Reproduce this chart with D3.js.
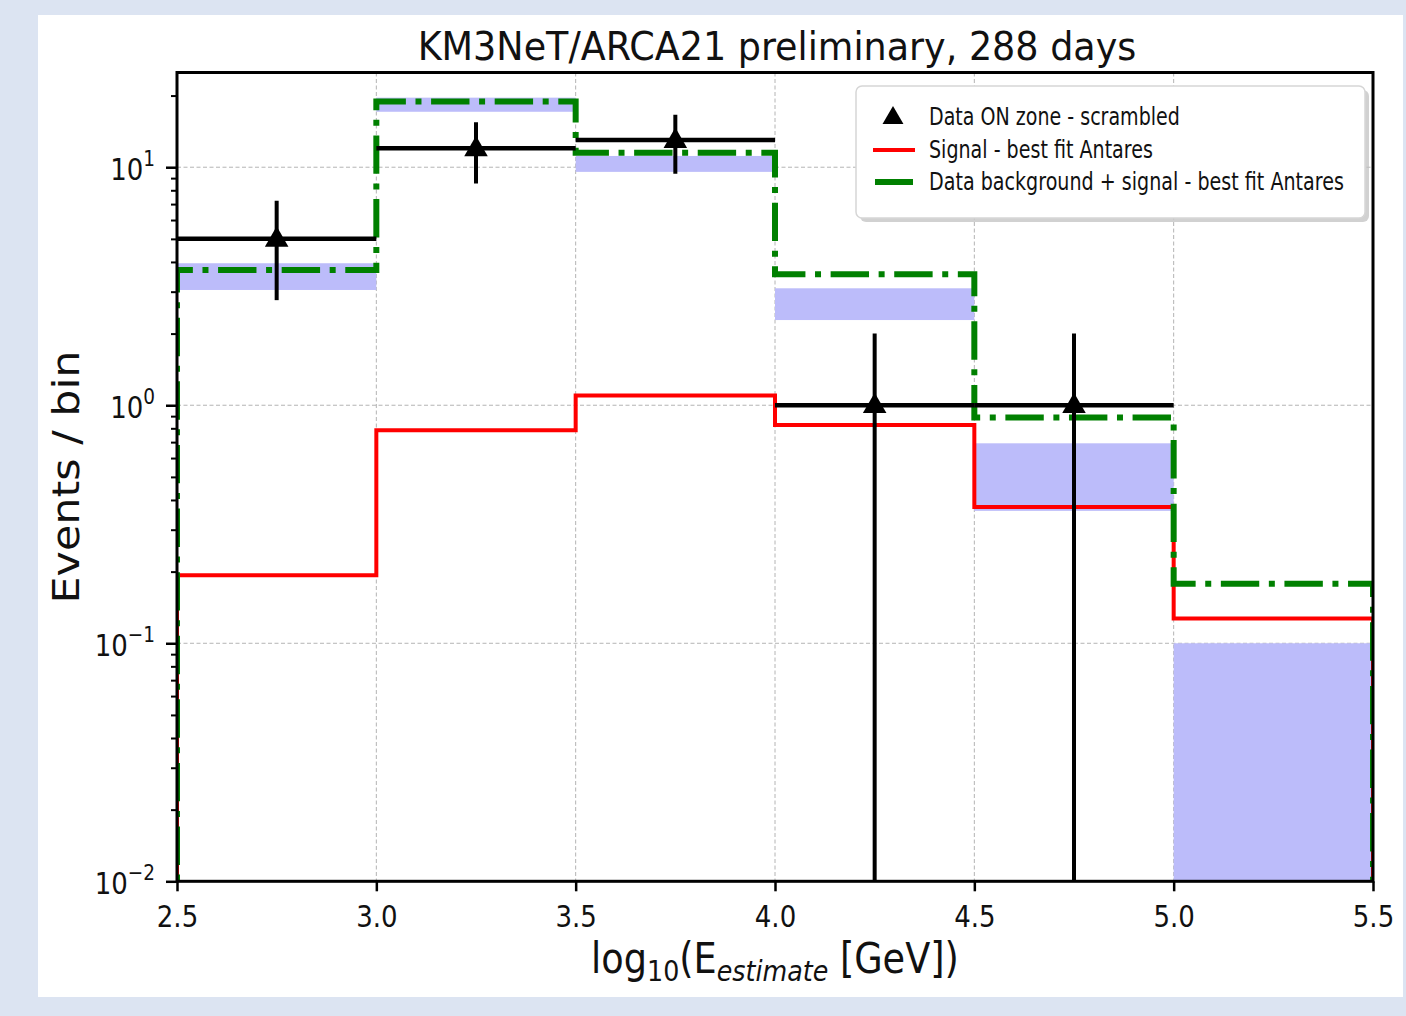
<!DOCTYPE html>
<html>
<head>
<meta charset="utf-8">
<script src="https://cdn.jsdelivr.net/npm/d3@7"></script>
<style>
  html, body { margin: 0; padding: 0; background: #dce4f2; }
  svg { display: block; }
  text { font-family: "DejaVu Sans", sans-serif; fill: #111; }
</style>
</head>
<body>
<div id="wrapper"></div>
<script>
// bin edges in log10(E / GeV)
var binEdges = [2.5, 3.0, 3.5, 4.0, 4.5, 5.0, 5.5];
// observed events, ON zone scrambled
var dataCounts = [5, 12, 13, 1, 1, 0];
// signal, best fit Antares
var signalVals = [0.193, 0.785, 1.10, 0.826, 0.374, 0.127];
// data background + signal
var bkgSignalVals = [3.70, 18.9, 11.5, 3.55, 0.888, 0.178];
// blue uncertainty band
var bandLow = [3.05, 17.1, 9.56, 2.28, 0.36, 0.001];
var bandHigh = [3.95, 19.6, 11.15, 3.10, 0.692, 0.1];

var xTicks = [2.5, 3.0, 3.5, 4.0, 4.5, 5.0, 5.5];
var yTicks = [0.01, 0.1, 1, 10];
var yTickExp = ["\u22122", "\u22121", "0", "1"];

var legendLabels = ["Data ON zone - scrambled", "Signal - best fit Antares", "Data background + signal - best fit Antares"];

var W = 1406, H = 1016;
var pL = 177, pR = 1373, pT = 72.5, pB = 881.3;
var squeeze = 0.84; // the slide's fonts look horizontally condensed

var svg = d3.select("#wrapper").append("svg")
    .attr("width", W).attr("height", H);

// white panel of the slide
svg.append("rect").attr("x", 38).attr("y", 15).attr("width", 1365).attr("height", 982).attr("fill", "white");

var x = d3.scaleLinear().domain([2.5, 5.5]).range([pL, pR]);
var y = d3.scaleLog().domain([0.01, 25]).range([pB, pT]);

svg.append("clipPath").attr("id", "plotclip")
  .append("rect").attr("x", pL).attr("y", pT).attr("width", pR - pL).attr("height", pB - pT);

// grid
var grid = svg.append("g");
grid.selectAll(".gx").data(xTicks.slice(1, -1)).enter().append("line")
    .attr("x1", d => x(d)).attr("x2", d => x(d)).attr("y1", pT).attr("y2", pB)
    .attr("stroke", "#b4b4b4").attr("stroke-width", 1).attr("stroke-dasharray", "4,2.5");
grid.selectAll(".gy").data(yTicks.slice(1)).enter().append("line")
    .attr("x1", pL).attr("x2", pR).attr("y1", d => y(d)).attr("y2", d => y(d))
    .attr("stroke", "#b4b4b4").attr("stroke-width", 1).attr("stroke-dasharray", "4,2.5");

var plot = svg.append("g").attr("clip-path", "url(#plotclip)");

// band
plot.selectAll(".band").data(bandLow).enter().append("rect")
    .attr("x", (d, i) => x(binEdges[i]))
    .attr("width", (d, i) => x(binEdges[i + 1]) - x(binEdges[i]))
    .attr("y", (d, i) => y(bandHigh[i]))
    .attr("height", (d, i) => y(Math.max(d, 0.001)) - y(bandHigh[i]))
    .attr("fill", "#bcbcfa");

// step histogram helper (drops to the floor on both ends)
function stepPoints(vals) {
  var pts = [[binEdges[0], 0.001]];
  vals.forEach(function(v, i) {
    pts.push([binEdges[i], v]);
    pts.push([binEdges[i + 1], v]);
  });
  pts.push([binEdges[binEdges.length - 1], 0.001]);
  return pts;
}
var stepLine = d3.line().x(d => x(d[0])).y(d => y(d[1]));

plot.append("path").attr("d", stepLine(stepPoints(signalVals)))
    .attr("fill", "none").attr("stroke", "#ff0000").attr("stroke-width", 4);

plot.append("path").attr("d", stepLine(stepPoints(bkgSignalVals)))
    .attr("fill", "none").attr("stroke", "#008000").attr("stroke-width", 6)
    .attr("stroke-dasharray", "38.4,9.6,6,9.6");

// data: horizontal bars per bin
var dataBins = dataCounts.map((d, i) => ({ i: i, n: d })).filter(p => p.n > 0);
plot.selectAll(".dbar").data(dataBins).enter().append("line")
    .attr("x1", d => x(binEdges[d.i])).attr("x2", d => x(binEdges[d.i + 1]))
    .attr("y1", d => y(d.n)).attr("y2", d => y(d.n))
    .attr("stroke", "black").attr("stroke-width", 4.5);

// error bars sqrt(N)
var centres = dataCounts.map((d, i) => (binEdges[i] + binEdges[i + 1]) / 2);
var pointsData = dataCounts.map((d, i) => ({ c: centres[i], n: d })).filter(p => p.n > 0);
plot.selectAll(".err").data(pointsData).enter().append("line")
    .attr("x1", d => x(d.c)).attr("x2", d => x(d.c))
    .attr("y1", d => y(d.n + Math.sqrt(d.n)))
    .attr("y2", d => y(Math.max(d.n - Math.sqrt(d.n), 0.001)))
    .attr("stroke", "black").attr("stroke-width", 4);

var tri = d3.symbol().type(d3.symbolTriangle).size(240);
plot.selectAll(".pt").data(pointsData).enter().append("path")
    .attr("d", tri)
    .attr("transform", d => "translate(" + x(d.c) + "," + (y(d.n) + 1) + ")")
    .attr("fill", "black");

// axes
var xAxis = svg.append("g").attr("transform", "translate(0," + pB + ")")
    .call(d3.axisBottom(x).tickValues(xTicks).tickFormat(d3.format(".1f")).tickSize(10).tickPadding(12));
xAxis.select(".domain").remove();
xAxis.selectAll("line").attr("stroke-width", 2.5);
xAxis.selectAll("text").attr("font-size", 31).attr("fill", "#1a1a1a").attr("dy", "0.75em")
    .attr("transform", "scale(" + squeeze + ",1)");

var minorTicks = [];
[0.01, 0.1, 1, 10].forEach(function(dec) {
  for (var k = 2; k <= 9; k++) { if (k * dec <= 25) minorTicks.push(k * dec); }
});
var yMinor = svg.append("g").attr("transform", "translate(" + pL + ",0)")
    .call(d3.axisLeft(y).tickValues(minorTicks).tickFormat("").tickSize(6));
yMinor.select(".domain").remove();
yMinor.selectAll("line").attr("stroke-width", 2);

var yAxis = svg.append("g").attr("transform", "translate(" + pL + ",0)")
    .call(d3.axisLeft(y).tickValues(yTicks).tickFormat("").tickSize(11));
yAxis.select(".domain").remove();
yAxis.selectAll("line").attr("stroke-width", 2.5);
yAxis.selectAll(".tick").append("text")
    .attr("x", -22 / squeeze).attr("y", 12).attr("text-anchor", "end").attr("font-size", 31).attr("fill", "#1a1a1a")
    .attr("transform", "scale(" + squeeze + ",1)")
    .each(function(d, i) {
      var t = d3.select(this);
      t.append("tspan").text("10");
      t.append("tspan").attr("font-size", 22).attr("dy", -14).text(yTickExp[i]);
    });

// frame
svg.append("rect").attr("x", pL).attr("y", pT).attr("width", pR - pL).attr("height", pB - pT)
    .attr("fill", "none").attr("stroke", "black").attr("stroke-width", 3);

// text helper: squeeze a text to a given width
function fitText(g, width) {
  var t = g.select("text");
  var w = t.node().getComputedTextLength();
  t.attr("transform", "scale(" + (width / w) + ",1)");
}

var title = svg.append("g").attr("transform", "translate(777,60)");
title.append("text").attr("text-anchor", "middle").attr("font-size", 39)
    .text("KM3NeT/ARCA21 preliminary, 288 days");
fitText(title, 719);

var xl = svg.append("g").attr("transform", "translate(775,973)");
var xlt = xl.append("text").attr("text-anchor", "middle").attr("font-size", 42);
xlt.append("tspan").text("log");
xlt.append("tspan").attr("font-size", 29).attr("dy", 8).text("10");
xlt.append("tspan").attr("dy", -8).text("(E");
xlt.append("tspan").attr("font-size", 29).attr("dy", 8).attr("font-style", "italic").text("estimate");
xlt.append("tspan").attr("dy", -8).text(" [GeV])");
fitText(xl, 368);

var yl = svg.append("g").attr("transform", "translate(79,477) rotate(-90)");
yl.append("text").attr("text-anchor", "middle").attr("font-size", 38).text("Events / bin");
fitText(yl, 253);

// legend
var lg = svg.append("g");
lg.append("rect").attr("x", 860).attr("y", 90).attr("width", 509).attr("height", 132).attr("rx", 6)
    .attr("fill", "#bdbdbd").attr("opacity", 0.7);
lg.append("rect").attr("x", 856).attr("y", 86).attr("width", 509).attr("height", 132).attr("rx", 6)
    .attr("fill", "white").attr("stroke", "#d6d6d6").attr("stroke-width", 1.5);

var rowY = [117, 150, 182];
lg.append("path").attr("d", d3.symbol().type(d3.symbolTriangle).size(190))
    .attr("transform", "translate(893," + (rowY[0] + 1) + ")").attr("fill", "black");
lg.append("line").attr("x1", 873).attr("x2", 915).attr("y1", rowY[1]).attr("y2", rowY[1])
    .attr("stroke", "#ff0000").attr("stroke-width", 4);
lg.append("line").attr("x1", 875).attr("x2", 913).attr("y1", rowY[2]).attr("y2", rowY[2])
    .attr("stroke", "#008000").attr("stroke-width", 6);

var legendW = [251, 224, 415];
legendLabels.forEach(function(lab, i) {
  var g = lg.append("g").attr("transform", "translate(929," + (rowY[i] + 8) + ")");
  g.append("text").attr("font-size", 24).attr("fill", "#222").text(lab);
  fitText(g, legendW[i]);
});
</script>
</body>
</html>
